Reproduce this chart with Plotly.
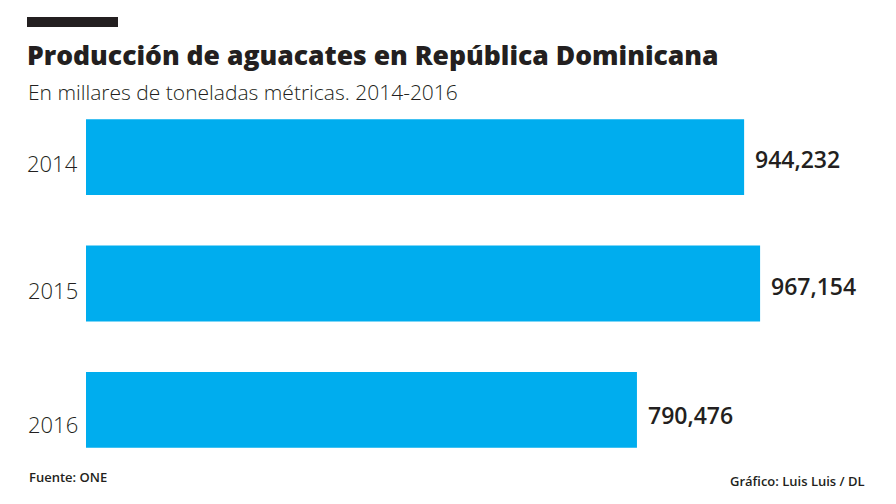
import plotly.graph_objects as go

# Datos: producción de aguacates (millares de toneladas métricas)
YEARS = ["2014", "2015", "2016"]
PRODUCTION = [944232, 967154, 790476]
VALUE_LABELS = ["944,232", "967,154", "790,476"]

BLUE = "#00ADEE"
TEXT = "#231F20"

# The page body keeps its default 8px margin, so the figure is drawn 8px
# smaller and every reference pixel position is moved back by 8px.
OFFSET = 8
W, H = 896 - OFFSET, 504 - OFFSET
M_L, M_R, M_T, M_B = 86 - OFFSET, 10, 94 - OFFSET, 31


def px(x):
    return (x - OFFSET - M_L) / (W - M_L - M_R)


def py(y):
    return (H - M_B - (y - OFFSET)) / (H - M_T - M_B)


fig = go.Figure()

fig.add_trace(
    go.Bar(
        x=PRODUCTION,
        y=YEARS,
        orientation="h",
        marker=dict(color=BLUE, line=dict(width=0)),
        width=0.6,
        hoverinfo="skip",
    )
)

# Year labels on the left and values on the right, a little below centre
for i, (yr, val, lab, ys_year, ys_val) in enumerate(
    zip(YEARS, PRODUCTION, VALUE_LABELS, [-6, -6, -14], [-2, -2, -5])
):
    fig.add_annotation(
        x=0, xref="paper", y=i, yref="y",
        text=yr, showarrow=False, xanchor="right", xshift=-6, yshift=ys_year,
        font=dict(family="Open Sans", size=22, color=TEXT, weight=300),
    )
    fig.add_annotation(
        x=val, xref="x", y=i, yref="y",
        text=lab, showarrow=False, xanchor="left", xshift=9, yshift=ys_val,
        font=dict(family="Open Sans", size=23, color=TEXT, weight=600),
    )

# Black rule above the title
fig.add_shape(
    type="rect", xref="paper", yref="paper",
    x0=px(27), x1=px(118), y0=py(27), y1=py(17),
    fillcolor=TEXT, line=dict(width=0),
)

fig.add_annotation(
    x=px(25), xref="paper", y=py(55), yref="paper",
    text="Producción de aguacates en República Dominicana",
    showarrow=False, xanchor="left", yanchor="middle",
    font=dict(family="Open Sans", size=26.5, color=TEXT, weight=800),
)
fig.add_annotation(
    x=px(26), xref="paper", y=py(92), yref="paper",
    text="En millares de toneladas métricas. 2014-2016",
    showarrow=False, xanchor="left", yanchor="middle",
    font=dict(family="Open Sans", size=21, color=TEXT, weight=300),
)
fig.add_annotation(
    x=px(27), xref="paper", y=py(477), yref="paper",
    text="Fuente: ONE",
    showarrow=False, xanchor="left", yanchor="middle",
    font=dict(family="Open Sans", size=13, color=TEXT, weight=600),
)
fig.add_annotation(
    x=px(867), xref="paper", y=py(481), yref="paper",
    text="Gráfico: Luis Luis / DL",
    showarrow=False, xanchor="right", yanchor="middle",
    font=dict(family="Open Sans", size=13, color=TEXT, weight=600),
)

fig.update_layout(
    width=W,
    height=H,
    margin=dict(l=M_L, r=M_R, t=M_T, b=M_B, pad=0, autoexpand=False),
    plot_bgcolor="white",
    paper_bgcolor="white",
    showlegend=False,
    xaxis=dict(
        range=[0, 1147800], automargin=False,
        showgrid=False, zeroline=False, showticklabels=False, showline=False,
    ),
    yaxis=dict(
        type="category", range=[2.5, -0.5], automargin=False,
        showgrid=False, zeroline=False, showticklabels=False, showline=False,
    ),
)

fig.write_html("out.html")
